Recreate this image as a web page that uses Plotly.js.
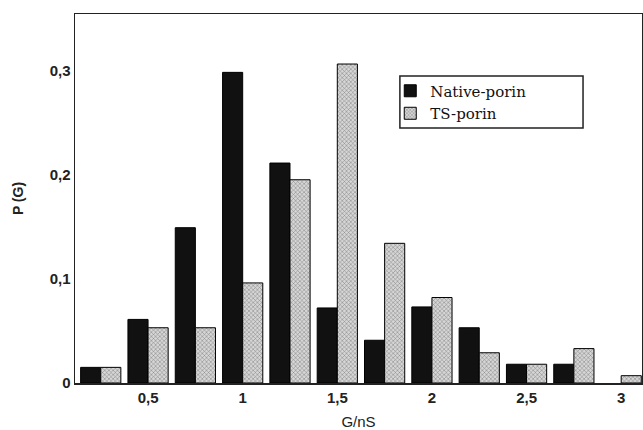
<!DOCTYPE html>
<html>
<head>
<meta charset="utf-8">
<script src="https://cdn.plot.ly/plotly-3.0.1.min.js"></script>
<style>html,body{margin:0;padding:0;background:#fff;}#chart{width:643px;height:430px;}</style>
</head>
<body>
<div id="chart"></div>
<script>
var conductance = [0.25, 0.5, 0.75, 1.0, 1.25, 1.5, 1.75, 2.0, 2.25, 2.5, 2.75, 3.0];
var nativePorin = [0.015, 0.061, 0.149, 0.298, 0.211, 0.072, 0.041, 0.073, 0.053, 0.018, 0.018, 0];
var tsPorin = [0.015, 0.053, 0.053, 0.096, 0.195, 0.306, 0.134, 0.082, 0.029, 0.018, 0.033, 0.007];
var xTickVals = [0.5, 1, 1.5, 2, 2.5, 3];
var xTickText = ['0,5', '1', '1,5', '2', '2,5', '3'];
var yTickVals = [0, 0.1, 0.2, 0.3];
var yTickText = ['0', '0,1', '0,2', '0,3'];

function outlineWidths(vals) { return vals.map(function (v) { return v > 0 ? 1 : 0; }); }

var traces = [
  {
    type: 'bar', name: 'Native-porin', x: conductance, y: nativePorin,
    marker: {color: '#111111', line: {color: '#000', width: outlineWidths(nativePorin)}}
  },
  {
    type: 'bar', name: 'TS-porin', x: conductance, y: tsPorin,
    marker: {
      color: '#777777',
      line: {color: '#000', width: outlineWidths(tsPorin)},
      pattern: {shape: 'x', bgcolor: '#d6d6d6', fgcolor: '#7c7c7c', size: 3, solidity: 0.3, fillmode: 'replace'}
    }
  }
];

var legendBox = {
  type: 'rect', xref: 'paper', yref: 'paper',
  x0: 0.573, x1: 0.896, y0: 0.691, y1: 0.832,
  line: {color: '#222', width: 1.5}, fillcolor: 'rgba(0,0,0,0)', layer: 'above'
};

var layout = {
  width: 643, height: 430,
  margin: {l: 75, r: 1, t: 14, b: 47},
  paper_bgcolor: '#fff', plot_bgcolor: '#fff',
  barmode: 'group', bargap: 0.15, bargroupgap: 0,
  showlegend: true,
  font: {family: 'Liberation Sans, Arial, sans-serif', color: '#111', size: 15},
  shapes: [legendBox],
  legend: {
    x: 0.556, y: 0.836, xanchor: 'left', yanchor: 'top',
    bgcolor: 'rgba(0,0,0,0)', borderwidth: 0,
    font: {family: 'DejaVu Serif, Liberation Serif, serif', size: 15, color: '#111'},
    traceorder: 'normal', itemwidth: 30, tracegroupgap: 0
  },
  xaxis: {
    range: [0.114, 3.11],
    tickvals: xTickVals, ticktext: xTickText,
    showgrid: false, zeroline: false,
    showline: true, linecolor: '#222', linewidth: 1.5, mirror: true,
    ticks: '', ticklen: 0,
    tickfont: {size: 15, weight: 'bold', color: '#222'},
    title: {text: 'G/nS', font: {size: 15, color: '#222'}, standoff: 14}
  },
  yaxis: {
    range: [0, 0.354],
    tickvals: yTickVals, ticktext: yTickText,
    showgrid: false, zeroline: false,
    showline: true, linecolor: '#222', linewidth: 1.5, mirror: true,
    ticks: '', ticklen: 0,
    tickfont: {size: 15, weight: 'bold', color: '#222'},
    title: {text: 'P (G)', font: {size: 14, weight: 'bold', color: '#222'}, standoff: 22}
  }
};

Plotly.newPlot('chart', traces, layout, {displayModeBar: false, staticPlot: true});
</script>
</body>
</html>
